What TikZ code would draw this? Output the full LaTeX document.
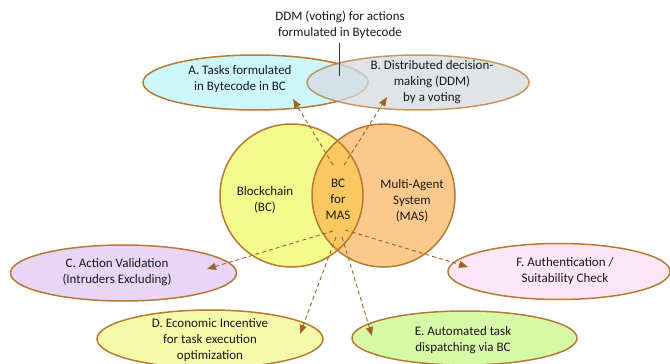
\documentclass[tikz,border=0pt]{standalone}
\usepackage{fontspec}
\setmainfont{Carlito}
\usetikzlibrary{shapes.geometric,arrows.meta}
\definecolor{bord}{RGB}{184,122,50}
\definecolor{arr}{RGB}{160,98,38}
\definecolor{fA}{RGB}{204,247,252}
\definecolor{fB}{RGB}{214,219,224}
\definecolor{fC}{RGB}{233,213,247}
\definecolor{fD}{RGB}{246,251,170}
\definecolor{fE}{RGB}{214,249,168}
\definecolor{fF}{RGB}{253,230,248}
\definecolor{fL}{RGB}{243,251,140}
\definecolor{fR}{RGB}{252,201,140}
\definecolor{fI}{RGB}{249,200,96}
\tikzset{
  oval/.style={ellipse, draw=bord, line width=1.5pt, inner sep=0pt},
  lbl/.style={align=center, font=\fontsize{13}{16}\selectfont, text=black!90},
  dasharrow/.style={draw=arr, line width=0.9pt, dash pattern=on 4pt off 3pt, -{Triangle[length=9pt,width=7pt]}},
}
\begin{document}
\begin{tikzpicture}[x=1pt,y=-1pt]
\clip (0,0) rectangle (670,364);
\fill[white] (0,0) rectangle (670,364);
% top ellipses
\node[oval, fill=fA, minimum width=225pt, minimum height=55pt] (A) at (255.5,82.5) {};
\node[oval, fill=fB, draw opacity=0.75, fill opacity=0.75, minimum width=222pt, minimum height=55pt] (B) at (418,82.5) {};
\node[lbl] (Atext) at (240,79.5) {A. Tasks formulated\\in Bytecode in BC};
\node[lbl] (Btext) at (432,82) {B. Distributed decision-\\making (DDM)\\by a voting};
\node[lbl] (note) at (340,24.5) {DDM (voting) for actions\\formulated in Bytecode};
\coordinate (noteend) at (339,76);
\draw[black!80, line width=0.8pt] (339,43) -- (noteend);
% circles
\node[circle, fill=fL, minimum size=143pt, inner sep=0pt] (L) at (291.5,195.5) {};
\node[circle, fill=fR, minimum size=143pt, inner sep=0pt] (R) at (383.5,195.5) {};
\begin{scope}
  \clip (291.5,195.5) circle (71.5pt);
  \fill[fI] (383.5,195.5) circle (71.5pt);
\end{scope}
\draw[bord, line width=1.5pt] (L.center) circle (71.5pt);
\draw[bord, line width=1.5pt] (R.center) circle (71.5pt);
\node[lbl] (Ltext) at (265,200) {Blockchain\\(BC)};
\node[lbl] (Itext) at (338,199) {BC\\for\\MAS};
\node[lbl] (Rtext) at (412,200.5) {Multi-Agent\\System\\(MAS)};
% bottom ellipses
\node[oval, fill=fC, minimum width=226pt, minimum height=56pt] (C) at (123.5,273) {};
\node[lbl] (Ctext) at (117,272.5) {C. Action Validation\\(Intruders Excluding)};
\node[oval, fill=fF, minimum width=222pt, minimum height=56pt] (F) at (559,271.5) {};
\node[lbl] (Ftext) at (565,271.5) {F. Authentication /\\Suitability Check};
\node[oval, fill=fD, minimum width=226pt, minimum height=58pt] (D) at (210,339) {};
\node[lbl] (Dtext) at (210,340.5) {D. Economic Incentive\\for task execution\\optimization};
\node[oval, fill=fE, minimum width=225pt, minimum height=54pt] (E) at (464.5,338) {};
\node[lbl] (Etext) at (463,340) {E. Automated task\\dispatching via BC};
% arrow coordinates
\coordinate (sA) at (333,165);
\coordinate (tA) at (293,99);
\coordinate (sB) at (344,165);
\coordinate (tB) at (387,97);
\coordinate (sC) at (333,231);
\coordinate (tC) at (207,269);
\coordinate (sF) at (345,230);
\coordinate (tF) at (468,267);
\coordinate (sD) at (336,237);
\coordinate (tD) at (300,334);
\coordinate (sE) at (342,237);
\coordinate (tE) at (372,336);
\draw[dasharrow] (sA) -- (tA);
\draw[dasharrow] (sB) -- (tB);
\draw[dasharrow] (sC) -- (tC);
\draw[dasharrow] (sF) -- (tF);
\draw[dasharrow] (sD) -- (tD);
\draw[dasharrow] (sE) -- (tE);
\end{tikzpicture}
\end{document}
